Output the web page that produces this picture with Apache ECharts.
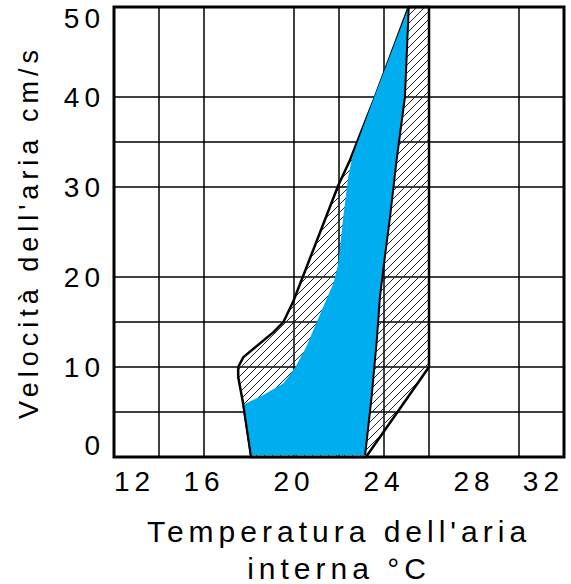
<!DOCTYPE html>
<html>
<head>
<meta charset="utf-8">
<script src="https://cdn.jsdelivr.net/npm/echarts@6/dist/echarts.min.js"></script>
<style>
    html, body { margin: 0; padding: 0; background: #fff; }
    #main { width: 571px; height: 584px; letter-spacing: 5px; }
</style>
</head>
<body>
<div id="main"></div>
<script>
    // assi
    var xTicks = [12, 14, 16, 18, 20, 22, 24, 26, 28, 30, 32];
    var xGrid = [12, 14, 16, 20, 22, 24, 26, 30, 32];
    var xLabels = [12, 16, 20, 24, 28, 32];
    var yTicks = [0, 5, 10, 15, 20, 25, 30, 35, 40, 45, 50];
    var yGrid = [0, 5, 10, 15, 20, 30, 35, 40, 50];
    var yLabels = [0, 10, 20, 30, 40, 50];

    // zona tratteggiata (temperatura, velocita)
    var hatchT = [25.1, 26, 26, 23.2, 18.1, 17.75, 17.52, 17.52, 17.75, 19.1, 19.53, 19.97, 21.97, 22.49, 22.79, 23.6];
    var hatchV = [50, 50, 10, 0, 0, 5.8, 8.9, 10, 11.1, 13.9, 15, 17.3, 30.2, 33, 34.9, 40];

    // zona di comfort (azzurra)
    var blueT = [18.08, 17.75, 18.64, 19.53, 20.04, 20.56, 20.86, 21.3, 21.75, 21.97, 22.19, 22.41, 22.6, 23.52, 25.1,
        24.93, 24.56, 24.27, 24.04, 23.82, 23.68, 23.45, 23.16];
    var blueV = [0.2, 5.8, 6.9, 8.2, 9.9, 12.3, 14.1, 16.7, 19.3, 21.5, 26.7, 31.1, 33.4, 39.7, 50,
        40, 33, 26.7, 22.3, 17.8, 13, 6.7, 0.2];

    function pairs(a, b) {
        return a.map(function (v, i) { return [v, b[i]]; });
    }
    var hatchPts = pairs(hatchT, hatchV);
    var bluePts = pairs(blueT, blueV);
    var topIdx = blueV.indexOf(50);
    var blueRight = bluePts.slice(topIdx);
    var blueLeftFoot = bluePts.slice(0, 2);

    // tratteggio
    var tile = document.createElement('canvas');
    tile.width = 8; tile.height = 8;
    var ctx = tile.getContext('2d');
    ctx.strokeStyle = '#222';
    ctx.lineWidth = 1;
    ctx.beginPath();
    ctx.moveTo(-1, 9); ctx.lineTo(9, -1);
    ctx.moveTo(-1, 1); ctx.lineTo(1, -1);
    ctx.moveTo(7, 9); ctx.lineTo(9, 7);
    ctx.stroke();

    function polygon(points, style, z) {
        return {
            type: 'custom',
            coordinateSystem: 'cartesian2d',
            z: z,
            silent: true,
            data: points,
            encode: {x: 0, y: 1},
            renderItem: function (params, api) {
                if (params.dataIndex !== 0) return;
                return {
                    type: 'polygon',
                    shape: {points: points.map(function (p) { return api.coord(p); })},
                    style: style
                };
            }
        };
    }

    function edge(points) {
        return {
            type: 'line', z: 6, silent: true, symbol: 'none',
            data: points,
            lineStyle: {color: '#000', width: 2}
        };
    }

    var font = {fontFamily: 'Liberation Sans', fontSize: 28, color: '#000'};
    var yMin = yTicks[0], yMax = yTicks[yTicks.length - 1];

    var chart = echarts.init(document.getElementById('main'), null, {renderer: 'svg'});
    chart.setOption({
        animation: false,
        grid: {
            left: 114, right: 7, top: 7, bottom: 127,
            show: true, borderColor: '#000', borderWidth: 3,
            containLabel: false, outerBoundsMode: 'none'
        },
        xAxis: {
            type: 'value', min: 12, max: 32, interval: 2,
            name: "Temperatura dell'aria\ninterna °C",
            nameLocation: 'middle', nameGap: 56,
            nameTextStyle: Object.assign({}, font, {fontSize: 30, lineHeight: 37}),
            axisLine: {show: false}, axisTick: {show: false},
            axisLabel: Object.assign({
                margin: 10, alignMinLabel: 'left', alignMaxLabel: 'right',
                formatter: function (v) { return xLabels.indexOf(v) >= 0 ? String(v) : ''; }
            }, font),
            splitLine: {show: true, lineStyle: {width: 1.5, color: xTicks.map(function (t) {
                return xGrid.indexOf(t) >= 0 ? '#000' : 'rgba(0,0,0,0)';
            })}}
        },
        yAxis: {
            type: 'value', min: yMin, max: yMax, interval: 5,
            name: "Velocità dell'aria cm/s",
            nameLocation: 'middle', nameRotate: 90, nameGap: 72,
            nameTextStyle: Object.assign({}, font, {fontSize: 27}),
            axisLine: {show: false}, axisTick: {show: false},
            axisLabel: Object.assign({
                margin: 9,
                formatter: function (v) {
                    if (yLabels.indexOf(v) < 0) return '';
                    if (v === yMax) return '{t|' + v + '}';
                    if (v === yMin) return '{b|' + v + '}';
                    return String(v);
                },
                rich: {
                    t: Object.assign({padding: [22, 0, 0, 0]}, font),
                    b: Object.assign({padding: [0, 0, 24, 0]}, font)
                }
            }, font),
            splitLine: {show: true, lineStyle: {width: 1.5, color: yTicks.map(function (t) {
                return yGrid.indexOf(t) >= 0 ? '#000' : 'rgba(0,0,0,0)';
            })}}
        },
        series: [
            polygon(hatchPts, {fill: {image: tile, repeat: 'repeat'}, stroke: '#000', lineWidth: 2.5, lineJoin: 'round'}, 3),
            polygon(bluePts, {fill: '#00AEEF'}, 4),
            edge(blueRight),
            edge(blueLeftFoot)
        ]
    });
</script>
</body>
</html>
